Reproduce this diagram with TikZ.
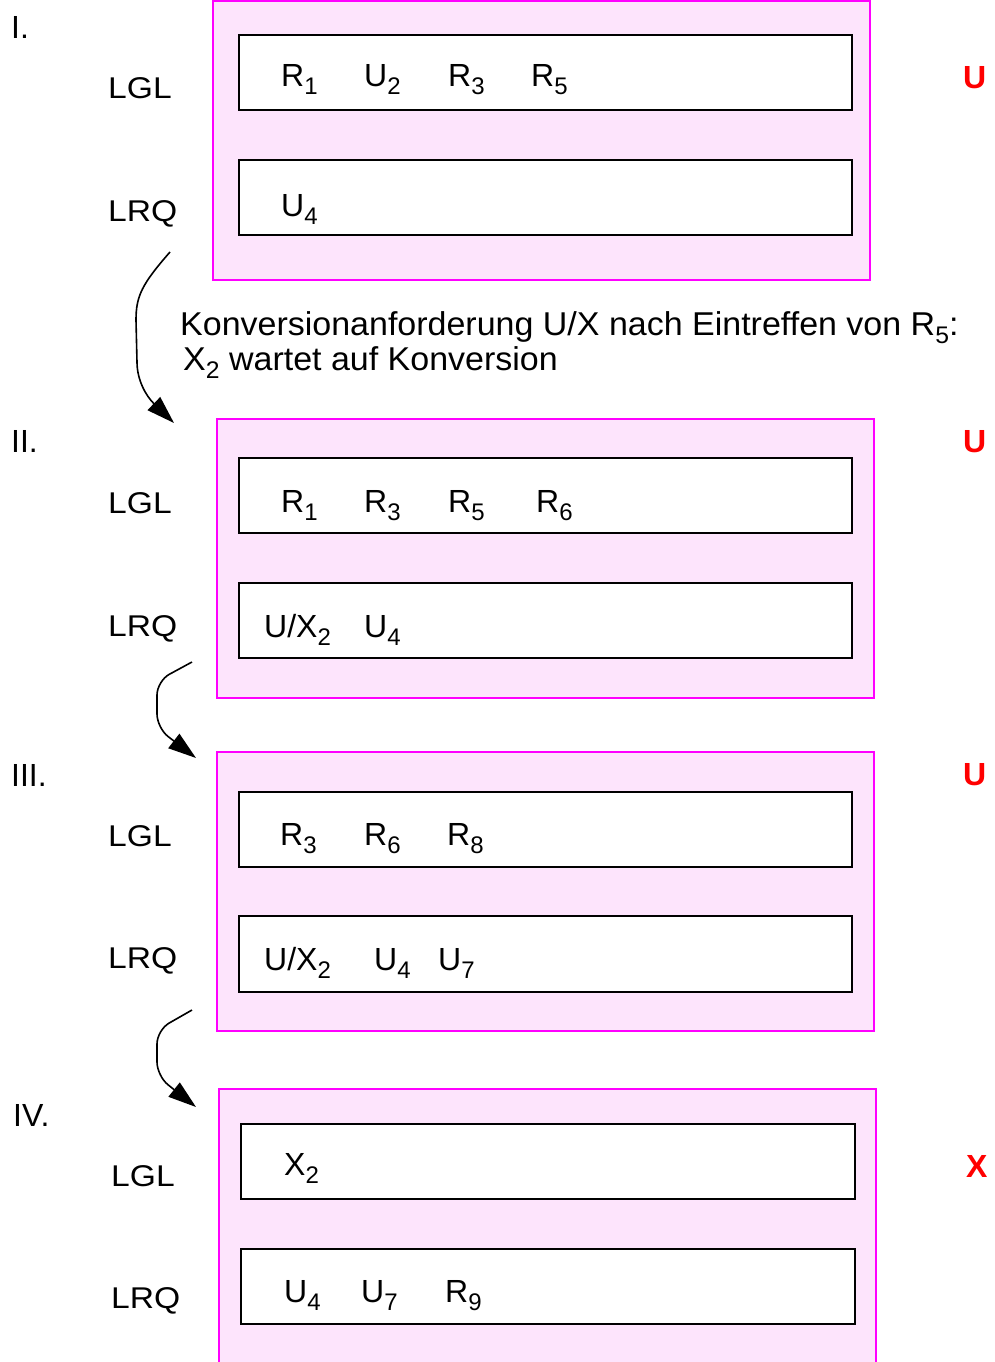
\documentclass[tikz,border=0pt]{standalone}
\usepackage{fontspec}
\setmainfont{Liberation Sans}
\newfontfamily\labfont[FakeStretch=1.12]{Liberation Sans}
\newfontfamily\txtfont[FakeStretch=1.03]{Liberation Sans}
\usetikzlibrary{arrows.meta}
\definecolor{pinkfill}{RGB}{253,228,252}
\definecolor{magentaline}{RGB}{255,0,255}
\definecolor{redtxt}{RGB}{255,0,0}
\newcommand\sbs[1]{\raisebox{-8pt}{\fontsize{24}{24}\selectfont #1}}
\tikzset{
  panel/.style={draw=magentaline, fill=pinkfill, line width=2pt},
  queue/.style={draw=black, fill=white, line width=2pt},
  item/.style={inner sep=0pt, anchor=base west, font=\fontsize{32}{36}\selectfont},
  lab/.style={inner sep=0pt, anchor=base west, font=\labfont\fontsize{30}{34}\selectfont},
  num/.style={inner sep=0pt, anchor=base west, font=\fontsize{32}{36}\selectfont},
  redmark/.style={inner sep=0pt, anchor=base west, text=redtxt, font=\bfseries\fontsize{32}{36}\selectfont},
  note/.style={inner sep=0pt, anchor=base west, font=\txtfont\fontsize{33}{38}\selectfont},
  flow/.style={line width=1.6pt, rounded corners=14pt, -{Triangle[length=28pt,width=18pt]}}
}
\begin{document}
\begin{tikzpicture}[x=1pt,y=-1pt]
\useasboundingbox (0,0) rectangle (994,1362);
\clip (0,0) rectangle (994,1362);

% Panel I
\draw[panel] (213,1) rectangle (870,280);
\draw[queue] (239,35) rectangle (852,110);
\draw[queue] (239,160) rectangle (852,235);
\node[num] (n1) at (11,39) {I.};
\node[lab] (l1a) at (108,99) {LGL};
\node[lab] (l1b) at (108,221) {LRQ};
\node[redmark] (m1) at (963,89) {U};
\node[item] (a1) at (281,87) {R\sbs{1}};
\node[item] (a2) at (364,87) {U\sbs{2}};
\node[item] (a3) at (448,87) {R\sbs{3}};
\node[item] (a4) at (531,87) {R\sbs{5}};
\node[item] (a5) at (281,216) {U\sbs{4}};

% Note
\node[note] (t1) at (180,335) {Konversionanforderung U/X nach Eintreffen von R\sbs{5}:};
\node[note] (t2) at (183,370) {X\sbs{2} wartet auf Konversion};

% Panel II
\draw[panel] (217,419) rectangle (874,698);
\draw[queue] (239,458) rectangle (852,533);
\draw[queue] (239,583) rectangle (852,658);
\node[num] (n2) at (11,452) {II.};
\node[lab] (l2a) at (108,513) {LGL};
\node[lab] (l2b) at (108,636) {LRQ};
\node[redmark] (m2) at (963,452) {U};
\node[item] (b1) at (281,512) {R\sbs{1}};
\node[item] (b2) at (364,512) {R\sbs{3}};
\node[item] (b3) at (448,512) {R\sbs{5}};
\node[item] (b4) at (536,512) {R\sbs{6}};
\node[item] (b5) at (264,637) {U/X\sbs{2}};
\node[item] (b6) at (364,637) {U\sbs{4}};

% Panel III
\draw[panel] (217,752) rectangle (874,1031);
\draw[queue] (239,792) rectangle (852,867);
\draw[queue] (239,916) rectangle (852,992);
\node[num] (n3) at (11,786) {III.};
\node[lab] (l3a) at (108,846) {LGL};
\node[lab] (l3b) at (108,968) {LRQ};
\node[redmark] (m3) at (963,785) {U};
\node[item] (c1) at (280,845) {R\sbs{3}};
\node[item] (c2) at (364,845) {R\sbs{6}};
\node[item] (c3) at (447,845) {R\sbs{8}};
\node[item] (c4) at (264,970) {U/X\sbs{2}};
\node[item] (c5) at (374,970) {U\sbs{4}};
\node[item] (c6) at (438,970) {U\sbs{7}};

% Panel IV
\draw[panel] (219,1089) rectangle (876,1420);
\draw[queue] (241,1124) rectangle (855,1199);
\draw[queue] (241,1249) rectangle (855,1324);
\node[num] (n4) at (13,1126) {IV.};
\node[lab] (l4a) at (111,1186) {LGL};
\node[lab] (l4b) at (111,1308) {LRQ};
\node[redmark] (m4) at (966,1177) {X};
\node[item] (d1) at (284,1175) {X\sbs{2}};
\node[item] (d2) at (284,1302) {U\sbs{4}};
\node[item] (d3) at (361,1302) {U\sbs{7}};
\node[item] (d4) at (445,1302) {R\sbs{9}};

% Connectors
\coordinate (s1) at (170,252);
\coordinate (e1) at (174,423);
\coordinate (s2) at (192,662);
\coordinate (e2) at (196,758);
\coordinate (s3) at (192,1010);
\coordinate (e3) at (196,1107);
\draw[line width=1.6pt, -{Triangle[length=28pt,width=18pt]}]
  (s1) .. controls (142,284) and (136,296) .. (136,320)
  -- (137,362) .. controls (137,380) and (146,396) .. (e1);
\draw[flow] (s2) -- (157,681) -- (157,728) -- (e2);
\draw[flow] (s3) -- (157,1030) -- (157,1076) -- (e3);
\end{tikzpicture}
\end{document}
